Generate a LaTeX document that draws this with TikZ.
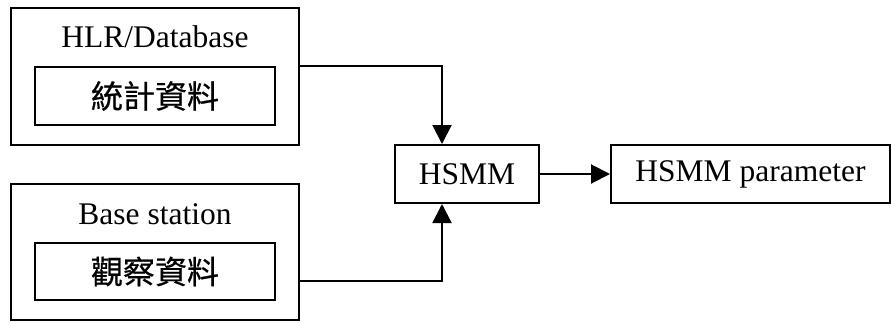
\documentclass[tikz,border=0pt]{standalone}
\usepackage{fontspec}
\setmainfont{Liberation Serif}
\newfontfamily\cjk[FakeBold=0.6]{Noto Sans CJK TC}
\usetikzlibrary{arrows.meta, calc}

\begin{document}
\begin{tikzpicture}[x=1pt, y=-1pt,
  outer/.style = {rectangle, draw, line width=2pt, inner sep=0pt},
  inner/.style = {rectangle, draw, line width=2pt, inner sep=0pt,
                  font=\cjk\fontsize{32}{38}\selectfont},
  box/.style   = {rectangle, draw, line width=2pt, inner sep=0pt,
                  minimum height=58pt, font=\fontsize{31.5}{38}\selectfont},
  title/.style = {font=\fontsize{31.5}{38}\selectfont, inner sep=0pt},
  arr/.style   = {-{Triangle[length=19pt,width=19pt]}, line width=2pt}
]
\useasboundingbox (0,0) rectangle (891,322);

\node[outer, minimum width=288pt, minimum height=137pt] (hlr)  at (155,76.5)  {};
\node[inner, minimum width=240pt, minimum height=58pt]  (stat) at (155,96)    {統計資料};
\node[title] (hlrtitle) at (155,37) {HLR/Database};

\node[outer, minimum width=288pt, minimum height=136pt] (bs)   at (155,252)   {};
\node[inner, minimum width=240pt, minimum height=57pt]  (obs)  at (155,271.5) {觀察資料};
\node[title] (bstitle) at (155,214) {Base station};

\node[box, minimum width=144pt] (hsmm)  at (467,174)   {HSMM};
\node[box, minimum width=279pt] (param) at (750.5,174) {HSMM parameter};

\coordinate (intop) at ($(hsmm.north west)+(48,0)$);
\coordinate (inbot) at ($(hsmm.south west)+(48,0)$);

\draw[arr] (hlr.east |- stat.north) -| (intop);
\draw[arr] (bs.east |- 0,281) -| (inbot);
\draw[arr] (hsmm) -- (param);
\end{tikzpicture}
\end{document}
